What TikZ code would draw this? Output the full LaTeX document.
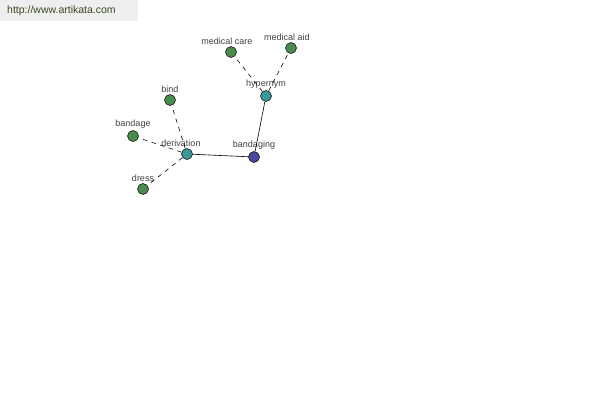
\documentclass[tikz,border=0pt]{standalone}
\usepackage{fontspec}
\setmainfont{Liberation Sans}
\definecolor{wordblue}{HTML}{4A4A9E}
\definecolor{relteal}{HTML}{3B9A98}
\definecolor{leafgreen}{HTML}{4B8B4B}
\definecolor{headbg}{HTML}{EEEEEE}
\definecolor{headtxt}{HTML}{3A4A22}
\tikzset{
    dot/.style={circle, draw=black, line width=0.5pt, inner sep=0pt, minimum size=11pt},
    lbl/.style={font=\fontsize{9}{10}\selectfont, text=black!75, inner sep=1pt},
    rel/.style={dashed, dash pattern=on 4.5pt off 4.5pt, line width=0.6pt},
}
\begin{document}
\begin{tikzpicture}[x=1pt, y=-1pt]
    % Page frame
    \useasboundingbox (0,0) rectangle (600,400);
    \fill[white] (0,0) rectangle (600,400);

    % Site header
    \fill[headbg] (0,0) rectangle (138,21);
    \node[anchor=west, text=headtxt, font=\fontsize{10.5}{12}\selectfont, inner sep=0pt] (site) at (7,11) {http://www.artikata.com};

    % Word nodes
    \node[dot, fill=wordblue, label={[lbl, label distance=0.5pt]above:bandaging}] (bandaging) at (254,157) {};
    \node[dot, fill=relteal, label={[lbl, label distance=0.5pt]above:hypernym}] (hypernym) at (266,96) {};
    \node[dot, fill=relteal, label={[lbl, label distance=0.5pt, xshift=-6pt]above:derivation}] (derivation) at (187,154) {};
    \node[dot, fill=leafgreen, label={[lbl, label distance=0.5pt, xshift=-4pt]above:medical care}] (medcare) at (231,52) {};
    \node[dot, fill=leafgreen, label={[lbl, label distance=0.5pt, xshift=-4pt]above:medical aid}] (medaid) at (291,48) {};
    \node[dot, fill=leafgreen, label={[lbl, label distance=0.5pt]above:bind}] (bind) at (170,100) {};
    \node[dot, fill=leafgreen, label={[lbl, label distance=0.5pt]above:bandage}] (bandage) at (133,136) {};
    \node[dot, fill=leafgreen, label={[lbl, label distance=0.5pt]above:dress}] (dress) at (143,189) {};

    % Links
    \draw[line width=0.6pt] (derivation) -- (bandaging);
    \draw[line width=0.6pt] (bandaging) -- (hypernym);
    \draw[rel] (hypernym) -- (medcare);
    \draw[rel] (hypernym) -- (medaid);
    \draw[rel] (derivation) -- (bind);
    \draw[rel] (derivation) -- (bandage);
    \draw[rel] (derivation) -- (dress);
\end{tikzpicture}
\end{document}
